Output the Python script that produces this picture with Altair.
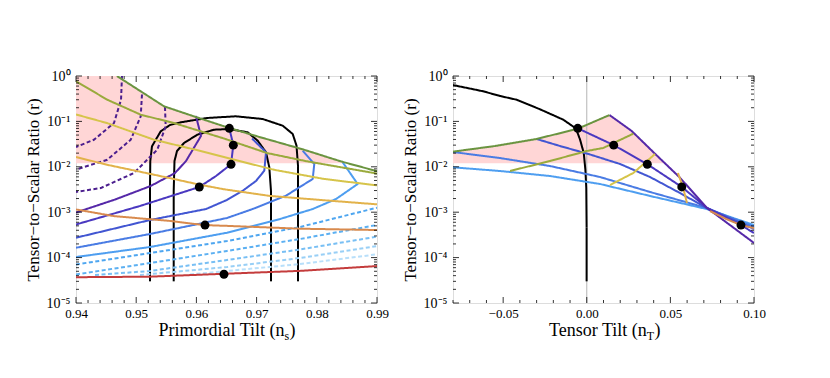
import altair as alt
import pandas as pd

FONT = "Liberation Serif"
W, H = 301, 227

# ================= LEFT PANEL DATA (ns, r) =================
green_ns = [0.9468, 0.95075, 0.95462, 0.9596, 0.96458, 0.97007, 0.97787, 0.98397, 0.99]
green_r = [1.0, 0.46, 0.215, 0.129, 0.078, 0.047, 0.0238, 0.0132, 0.0080]
olive_ns = [0.94, 0.9452, 0.95075, 0.95628, 0.96458, 0.97173, 0.97837, 0.99]
olive_r = [0.764, 0.30, 0.1405, 0.092, 0.042, 0.0201, 0.0132, 0.0071]
yellow_ns = [0.94, 0.94515, 0.95296, 0.96071, 0.96458, 0.97289, 0.9812, 0.99]
yellow_r = [0.142, 0.092, 0.0395, 0.0223, 0.0164, 0.0086, 0.0054, 0.0039]
gold_ns = [0.94, 0.94515, 0.95296, 0.96071, 0.96458, 0.97223, 0.98269, 0.99]
gold_r = [0.0164, 0.0111, 0.0067, 0.0040, 0.0032, 0.00228, 0.00177, 0.00149]
orange_ns = [0.94, 0.94631, 0.95573, 0.96126, 0.96508, 0.97733, 0.99]
orange_r = [0.00115, 0.00082, 0.00064, 0.00052, 0.00050, 0.000433, 0.000405]
red_ns = [0.94, 0.95229, 0.96458, 0.97721, 0.99]
red_r = [3.7e-5, 3.8e-5, 4.4e-5, 5.1e-5, 6.5e-5]

p1_ns = [0.94, 0.94648, 0.95241, 0.95645, 0.95827, 0.96076, 0.95993]
p1_r = [9.84e-4, 1.9e-3, 3.78e-3, 7.3e-3, 0.0134, 0.0477, 0.1315]
p2_ns = [0.94, 0.95063, 0.96048, 0.96326, 0.96575, 0.96613, 0.96547]
p2_r = [5.36e-4, 1.37e-3, 3.59e-3, 6.27e-3, 0.01135, 0.0302, 0.0705]
p3_ns = [0.94, 0.95229, 0.9616, 0.96508, 0.96774, 0.9699, 0.97128, 0.97156, 0.96924]
p3_r = [2.74e-4, 6.73e-4, 1.175e-3, 1.86e-3, 3.0e-3, 4.87e-3, 8.2e-3, 0.0209, 0.042]
p4_ns = [0.94, 0.95229, 0.96508, 0.96935, 0.97488, 0.97932, 0.97958, 0.97766]
p4_r = [1.65e-4, 3.31e-4, 7.45e-4, 1.175e-3, 2.31e-3, 5.39e-3, 0.01153, 0.0226]
p5_ns = [0.94, 0.95229, 0.96508, 0.97389, 0.97932, 0.98319, 0.98679, 0.9843]
p5_r = [1.03e-4, 1.71e-4, 3.53e-4, 7.08e-4, 1.175e-3, 1.95e-3, 4.18e-3, 0.01256]

dp1_ns = [0.94764, 0.94748, 0.94631, 0.94299, 0.94]
dp1_r = [1.0, 0.30, 0.092, 0.0395, 0.0273]
dp2_ns = [0.95096, 0.95075, 0.94909, 0.9452, 0.94]
dp2_r = [0.39, 0.129, 0.0395, 0.0143, 0.0087]
dp3_ns = [0.95478, 0.9549, 0.9535, 0.94963, 0.9441, 0.94]
dp3_r = [0.2075, 0.078, 0.0238, 0.0073, 0.0034, 0.00279]

d1_ns = [0.94, 0.95229, 0.96508, 0.97721, 0.99]
d1_r = [7.05e-5, 1.26e-4, 2.32e-4, 4.72e-4, 1.256e-3]
d2_ns = [0.94, 0.95229, 0.96508, 0.97721, 0.99]
d2_r = [4.25e-5, 7.6e-5, 1.4e-4, 2.57e-4, 5.22e-4]
d3_ns = [0.94316, 0.95229, 0.96508, 0.97721, 0.99]
d3_r = [4.14e-5, 5.07e-5, 8.86e-5, 1.51e-4, 2.89e-4]
d4_ns = [0.95063, 0.96508, 0.97721, 0.99]
d4_r = [4.14e-5, 6.2e-5, 9.8e-5, 1.8e-4]
d5_ns = [0.95894, 0.96508, 0.97721, 0.99]
d5_r = [4.25e-5, 5.07e-5, 7.2e-5, 1.18e-4]

# confidence contours (upper, curved part) and their vertical legs
outer_ns = [0.95229, 0.95234, 0.95262, 0.95407, 0.95561, 0.95739, 0.96181,
            0.96658, 0.97101, 0.97434, 0.976, 0.97663, 0.97688]
outer_r = [3.41e-3, 0.0134, 0.0283, 0.0605, 0.0833, 0.0955, 0.119,
           0.1295, 0.113, 0.0804, 0.0528, 0.0292, 0.0104]
inner_ns = [0.95623, 0.95636, 0.95678, 0.95794, 0.96015, 0.96292, 0.96547,
            0.96852, 0.97018, 0.97156, 0.97211, 0.97239]
inner_r = [2.93e-3, 0.0134, 0.0223, 0.0334, 0.0509, 0.0656, 0.068,
           0.0575, 0.0376, 0.0209, 0.00975, 2.93e-3]
legsL_ns = [0.95229, 0.97688, 0.95623, 0.97239]
legsL_top = [3.41e-3, 0.0104, 2.93e-3, 2.93e-3]
legsL_bottom = [3e-5, 3e-5, 3e-5, 3e-5]

pinkL_ns = [0.94, 0.9468, 0.95075, 0.95462, 0.9596, 0.96458, 0.97007, 0.97787, 0.98397, 0.98509]
pinkL_top = [1.0, 1.0, 0.46, 0.215, 0.129, 0.078, 0.047, 0.0238, 0.0132, 0.012]
pink_bottom = 0.012

dotsL_ns = [0.96547, 0.96613, 0.96575, 0.96048, 0.96143, 0.96458]
dotsL_r = [0.0705, 0.030, 0.01135, 0.00359, 0.00052, 0.000043]

# ================= RIGHT PANEL DATA (nT, r) =================
bk_nt = [-0.0802, -0.0619, -0.0519, -0.0419, -0.028, -0.01405, -0.0065, -0.0040,
         -0.0018, -0.00084, -0.0003, -0.0001]
bk_r = [0.634, 0.46, 0.363, 0.30, 0.185, 0.109, 0.07, 0.0395, 0.0201, 0.0086, 0.0034, 4.6e-4]
legsR_nt = [-0.0001]
legsR_top = [4.6e-4]
legsR_bottom = [3e-5]
gR_nt = [-0.0803, -0.0549, -0.030, -0.0054, 0.01358]
gR_r = [0.0215, 0.0287, 0.041, 0.069, 0.138]
rp1_nt = [0.01358, 0.02685, 0.04079, 0.05574, 0.07171, 0.1]
rp1_r = [0.138, 0.0615, 0.0194, 0.00575, 0.001256, 0.00021]
rp2_nt = [-0.0054, 0.0161, 0.0362, 0.0568, 0.0717, 0.0922, 0.1]
rp2_r = [0.0705, 0.030, 0.0114, 0.0036, 0.00126, 5.2e-4, 3.48e-4]
rp3_nt = [-0.030, -0.016, 0.0019, 0.0199, 0.0378, 0.0557, 0.0717, 0.1]
rp3_r = [0.041, 0.0287, 0.0187, 0.01153, 0.00596, 0.00265, 0.00124, 4.27e-4]
rp4_nt = [-0.0802, -0.0519, -0.022, 0.0079, 0.0378, 0.0717, 0.1]
rp4_r = [0.0212, 0.0156, 0.0104, 0.00596, 0.00279, 0.00124, 4.72e-4]
rp5_nt = [-0.0802, -0.0519, -0.022, 0.0079, 0.0378, 0.0717, 0.1]
rp5_r = [0.00975, 0.00808, 0.00627, 0.00418, 0.00228, 0.001175, 5.22e-4]
oR_nt = [-0.0459, -0.022, 0.0, 0.00987, 0.0278]
oR_r = [0.00808, 0.0134, 0.0223, 0.026, 0.0536]
yR_nt = [0.0139, 0.0278, 0.0408]
yR_r = [0.00397, 0.0073, 0.0191]
goR_nt = [0.0545, 0.0575, 0.0599]
goR_r = [0.0073, 0.0036, 0.0016]
orR_nt = [0.0737, 0.0837, 0.0926, 0.1]
orR_r = [0.00106, 6.98e-4, 5.14e-4, 4.49e-4]
pinkR_nt = [-0.08, -0.0549, -0.03, -0.0054, 0.01358, 0.02685, 0.04079, 0.0462]
pinkR_top = [0.0215, 0.0287, 0.041, 0.069, 0.138, 0.0615, 0.0194, 0.012]
dotsR_nt = [-0.0054, 0.0161, 0.0362, 0.0568, 0.0922]
dotsR_r = [0.0705, 0.030, 0.0114, 0.0036, 0.00052]

# ================= COLOURS =================
C = {
    "green": "#6a9440", "olive": "#9aaa3c", "yellow": "#d6c44a", "gold": "#e2b24a",
    "orange": "#d88a4e", "red": "#c43c3c",
    "p1": "#5528a8", "p2": "#4a38c0", "p3": "#4256d2", "p4": "#4a7ce4", "p5": "#4e9ef0",
    "dp": "#4b1e8e",
    "d1": "#4ea6f0", "d2": "#5cb0f2", "d3": "#78bff4", "d4": "#98cff6", "d5": "#b8dffa",
    "black": "#000000",
}
PINK = "#ffd6d6"


def ser(name, xs, ys, dash="solid"):
    return pd.DataFrame({"x": xs, "r": ys, "s": name, "d": dash, "o": list(range(len(xs)))})


left_lines = pd.concat([
    ser("outer", outer_ns, outer_r), ser("inner", inner_ns, inner_r),
    ser("dp1", dp1_ns, dp1_r, "dash"), ser("dp2", dp2_ns, dp2_r, "dash"), ser("dp3", dp3_ns, dp3_r, "dash"),
    ser("d5", d5_ns, d5_r, "dash"), ser("d4", d4_ns, d4_r, "dash"), ser("d3", d3_ns, d3_r, "dash"),
    ser("d2", d2_ns, d2_r, "dash"), ser("d1", d1_ns, d1_r, "dash"),
    ser("p5", p5_ns, p5_r), ser("p4", p4_ns, p4_r), ser("p3", p3_ns, p3_r),
    ser("p2", p2_ns, p2_r), ser("p1", p1_ns, p1_r),
    ser("red", red_ns, red_r), ser("orange", orange_ns, orange_r), ser("gold", gold_ns, gold_r),
    ser("yellow", yellow_ns, yellow_r), ser("olive", olive_ns, olive_r), ser("green", green_ns, green_r),
], ignore_index=True)

right_lines = pd.concat([
    ser("black", bk_nt, bk_r),
    ser("p5", rp5_nt, rp5_r), ser("p4", rp4_nt, rp4_r), ser("p3", rp3_nt, rp3_r),
    ser("p2", rp2_nt, rp2_r), ser("p1", rp1_nt, rp1_r),
    ser("olive", oR_nt, oR_r), ser("yellow", yR_nt, yR_r), ser("gold", goR_nt, goR_r),
    ser("orange", orR_nt, orR_r), ser("green", gR_nt, gR_r),
], ignore_index=True)

names = list(C.keys())
color_scale = alt.Scale(domain=names + ["dp1", "dp2", "dp3", "outer", "inner"],
                        range=[C[n] for n in names] + [C["dp"]] * 3 + ["#000000"] * 2)
dash_scale = alt.Scale(domain=["solid", "dash"], range=[[1, 0], [4, 2.5]])

YT = [1e-5, 1e-4, 1e-3, 1e-2, 1e-1, 1.0]
ylabel = ("datum.value >= 0.5 ? '10⁰' : datum.value >= 0.05 ? '10⁻¹' : datum.value >= 0.005 ? '10⁻²' : "
          "datum.value >= 0.0005 ? '10⁻³' : datum.value >= 0.00005 ? '10⁻⁴' : '10⁻⁵'")
ymin = [k * 10.0 ** e for e in range(-5, 0) for k in range(2, 10)]


def panel(xdom, xticks, xminor, xfmt, lines_df, legs_x, legs_top, legs_bot, pink_x, pink_top, dots_x, dots_r,
          main_title, sub, sub_x, paren_x, zero_rule=False):
    xs = alt.Scale(domain=xdom, nice=False, zero=False)
    ys = alt.Scale(type="log", domain=[1e-5, 1.0], nice=False)
    xa = alt.Axis(values=xticks, format=xfmt, title=None, domain=False, ticks=False, grid=False,
                  labelFontSize=13, labelPadding=4, labelFont=FONT, labelColor="black",
                  labelFlush=False)
    ya = alt.Axis(values=YT, labelExpr=ylabel, title="Tensor−to−Scalar Ratio (r)", domain=False,
                  ticks=False, grid=False, labelFontSize=14, labelPadding=6, labelFont=FONT,
                  labelColor="black", titleFont=FONT, titleFontSize=17, titleFontWeight="normal",
                  titleColor="black", titlePadding=4, labelFlush=False)
    X = lambda f: alt.X(f, scale=xs, axis=xa)
    Y = lambda f: alt.Y(f, scale=ys, axis=ya)

    pink = alt.Chart(pd.DataFrame({"x": pink_x, "r": pink_top, "b": [pink_bottom] * len(pink_x)})).mark_area(
        color=PINK, opacity=1, clip=True).encode(x=X("x:Q"), y=Y("r:Q"), y2="b:Q")

    layers = [pink]
    if zero_rule:
        layers.append(alt.Chart(pd.DataFrame({"x": [0.0], "r": [1.0], "b": [1e-5]}))
                      .mark_rule(color="#b4b4b4", strokeWidth=1)
                      .encode(x=X("x:Q"), y=Y("r:Q"), y2="b:Q"))
    layers.append(alt.Chart(pd.DataFrame({"x": legs_x, "r": legs_top, "b": legs_bot}))
                  .mark_rule(color="black", strokeWidth=2, clip=True)
                  .encode(x=X("x:Q"), y=Y("r:Q"), y2="b:Q"))
    layers.append(alt.Chart(lines_df).mark_line(strokeWidth=2, clip=True, strokeJoin="round").encode(
        x=X("x:Q"), y=Y("r:Q"),
        color=alt.Color("s:N", scale=color_scale, legend=None),
        strokeDash=alt.StrokeDash("d:N", scale=dash_scale, legend=None),
        detail="s:N", order="o:Q"))
    layers.append(alt.Chart(pd.DataFrame({"x": dots_x, "r": dots_r})).mark_circle(
        color="black", size=80, opacity=1).encode(x=X("x:Q"), y=Y("r:Q")))

    # inward ticks
    ymaj = pd.DataFrame({"v": YT})
    ymi = pd.DataFrame({"v": ymin})
    xmaj = pd.DataFrame({"v": xticks})
    xmi = pd.DataFrame({"v": xminor})
    for df, L in [(ymaj, 6), (ymi, 3)]:
        layers.append(alt.Chart(df).mark_rule(color="black", strokeWidth=0.8).encode(
            y=Y("v:Q"), x=alt.value(0), x2=alt.value(L)))
        layers.append(alt.Chart(df).mark_rule(color="black", strokeWidth=0.8).encode(
            y=Y("v:Q"), x=alt.value(W), x2=alt.value(W - L)))
    for df, L in [(xmaj, 6), (xmi, 3)]:
        layers.append(alt.Chart(df).mark_rule(color="black", strokeWidth=0.8).encode(
            x=X("v:Q"), y=alt.value(H), y2=alt.value(H - L)))
        layers.append(alt.Chart(df).mark_rule(color="black", strokeWidth=0.8).encode(
            x=X("v:Q"), y=alt.value(0), y2=alt.value(L)))

    one = pd.DataFrame({"a": [0]})
    layers.append(alt.Chart(one).mark_text(text=main_title, align="right", baseline="alphabetic",
                                           font=FONT, fontSize=18, color="black")
                  .encode(x=alt.value(sub_x), y=alt.value(H + 33)))
    layers.append(alt.Chart(one).mark_text(text=sub, align="left", baseline="alphabetic",
                                           font=FONT, fontSize=12, color="black")
                  .encode(x=alt.value(sub_x), y=alt.value(H + 37)))
    layers.append(alt.Chart(one).mark_text(text=")", align="left", baseline="alphabetic",
                                           font=FONT, fontSize=18, color="black")
                  .encode(x=alt.value(paren_x), y=alt.value(H + 33)))
    return alt.layer(*layers).properties(width=W, height=H)


left_xt = [0.94, 0.95, 0.96, 0.97, 0.98, 0.99]
left_xm = [round(0.94 + 0.002 * i, 3) for i in range(26) if i % 5 != 0]
right_xt = [-0.05, 0.0, 0.05, 0.10]
right_xm = [round(-0.08 + 0.01 * i, 2) for i in range(19) if round(-0.08 + 0.01 * i, 2) not in (-0.05, 0.0, 0.05, 0.1)]

left = panel([0.94, 0.99], left_xt, left_xm, ".2f", left_lines, legsL_ns, legsL_top, legsL_bottom,
             pinkL_ns, pinkL_top, dotsL_ns, dotsL_r, "Primordial Tilt (n", "s", 208.6, 213.6)
right = panel([-0.08, 0.10], right_xt, right_xm, ".2f", right_lines, legsR_nt, legsR_top, legsR_bottom,
              pinkR_nt, pinkR_top, dotsR_nt, dotsR_r, "Tensor Tilt (n", "T", 193.8, 201.4, zero_rule=True)

chart = alt.hconcat(left, right, spacing=11).properties(
    padding={"left": 15, "top": 60, "right": 5, "bottom": 5}
).configure_view(stroke="black", strokeWidth=1.2).configure(background="white")

chart.save("out.html", embed_options={"renderer": "svg", "actions": False})
